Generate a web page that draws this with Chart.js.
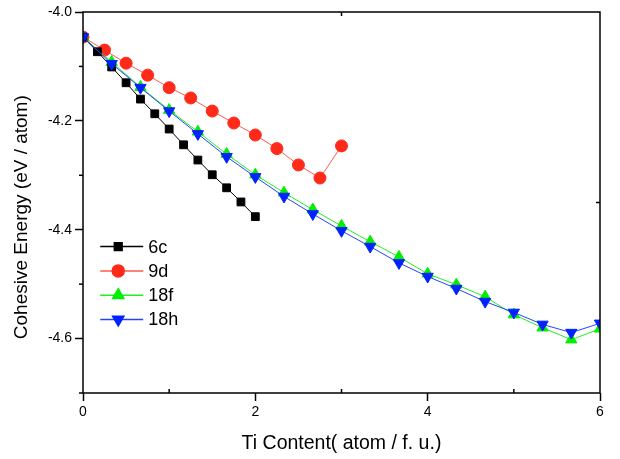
<!DOCTYPE html>
<html>
<head>
<meta charset="utf-8">
<script src="https://cdn.jsdelivr.net/npm/chart.js@4.4.1/dist/chart.umd.min.js"></script>
<style>
  html, body { margin: 0; padding: 0; background: #fff; }
  #wrap { width: 620px; height: 459px; }
</style>
</head>
<body>
<div id="wrap"><canvas id="energyChart" width="620" height="459"></canvas></div>
<script>
// Ti content (atom / f.u.) and cohesive energy (eV / atom)
const x6c = [0, 0.167, 0.333, 0.5, 0.667, 0.833, 1.0, 1.167, 1.333, 1.5, 1.667, 1.833, 2.0];
const e6c = [-4.046, -4.073, -4.101, -4.130, -4.160, -4.187, -4.215, -4.244, -4.272, -4.299, -4.323, -4.349, -4.376];

const x9d = [0, 0.25, 0.5, 0.75, 1.0, 1.25, 1.5, 1.75, 2.0, 2.25, 2.5, 2.75, 3.0];
const e9d = [-4.046, -4.070, -4.094, -4.116, -4.139, -4.158, -4.182, -4.204, -4.226, -4.251, -4.281, -4.305, -4.246];

const x18 = [0, 0.333, 0.667, 1.0, 1.333, 1.667, 2.0, 2.333, 2.667, 3.0, 3.333, 3.667, 4.0, 4.333, 4.667, 5.0, 5.333, 5.667, 6.0];
const e18f = [-4.046, -4.092, -4.138, -4.180, -4.220, -4.261, -4.299, -4.332, -4.363, -4.393, -4.422, -4.450, -4.481, -4.501, -4.523, -4.556, -4.580, -4.602, -4.582];
const e18h = [-4.046, -4.095, -4.139, -4.182, -4.224, -4.266, -4.303, -4.339, -4.371, -4.402, -4.431, -4.461, -4.486, -4.508, -4.532, -4.552, -4.574, -4.589, -4.572];

const seriesNames = ['6c', '9d', '18f', '18h'];
const xMajorTicks = [0, 2, 4, 6];
const xMinorTicks = [1, 3, 5];
const yMajorTicks = [-4.0, -4.2, -4.4, -4.6];
const yMinorTicks = [-4.1, -4.3, -4.5, -4.7];
const yTitle = 'Cohesive Energy (eV / atom)';

function toPoints(xs, ys) {
    return xs.map(function(x, i) { return { x: x, y: ys[i] }; });
}

const FONT = '"Liberation Sans", Arial, sans-serif';

function tick(ctx, x1, y1, x2, y2) {
    ctx.beginPath();
    ctx.moveTo(x1, y1);
    ctx.lineTo(x2, y2);
    ctx.stroke();
}

// box round the plot, minor ticks, small ticks on top/right, y title
const framePlugin = {
    id: 'frame',
    afterDraw: function(chart) {
        const ctx = chart.ctx;
        const a = chart.chartArea;
        const xs = chart.scales.x;
        const ys = chart.scales.y;
        ctx.save();
        ctx.strokeStyle = '#000';
        ctx.lineWidth = 1.5;
        ctx.strokeRect(a.left, a.top, a.right - a.left, a.bottom - a.top);
        xMinorTicks.forEach(function(v) {
            const px = xs.getPixelForValue(v);
            tick(ctx, px, a.bottom, px, a.bottom - 4);
        });
        yMinorTicks.forEach(function(v) {
            const py = ys.getPixelForValue(v);
            tick(ctx, a.left, py, a.left - 4, py);
        });
        // top and right axes
        const midX = xs.getPixelForValue(3);
        tick(ctx, midX, a.top, midX, a.top + 4);
        const midY = ys.getPixelForValue(-4.35);
        tick(ctx, a.right, midY, a.right - 4, midY);

        // y axis title, sits a little below the middle like the original
        ctx.translate(22, ys.getPixelForValue(-4.377));
        ctx.rotate(-Math.PI / 2);
        ctx.fillStyle = '#000';
        ctx.font = '19px ' + FONT;
        ctx.textAlign = 'center';
        ctx.textBaseline = 'middle';
        ctx.fillText(yTitle, 0, 0);
        ctx.restore();
    }
};

// legend drawn inside the plot, lower left
const legendPlugin = {
    id: 'innerLegend',
    afterDraw: function(chart) {
        const ctx = chart.ctx;
        const xs = chart.scales.x;
        const ys = chart.scales.y;
        const left = xs.getPixelForValue(0.2);
        const top = ys.getPixelForValue(-4.431);
        const rowH = 24.3;
        ctx.save();
        chart.data.datasets.forEach(function(ds, i) {
            const y = top + i * rowH;
            ctx.strokeStyle = ds.borderColor;
            ctx.lineWidth = 1.5;
            ctx.beginPath();
            ctx.moveTo(left, y);
            ctx.lineTo(left + 43, y);
            ctx.stroke();
            ctx.fillStyle = ds.pointBackgroundColor;
            ctx.strokeStyle = ds.pointBackgroundColor;
            Chart.helpers.drawPoint(ctx, {
                pointStyle: ds.pointStyle,
                radius: ds.pointRadius,
                rotation: ds.pointRotation || 0,
                borderWidth: 1
            }, left + 18, y);
            ctx.fillStyle = '#000';
            ctx.font = '18px ' + FONT;
            ctx.textBaseline = 'middle';
            ctx.fillText(ds.label, left + 48, y + 1);
        });
        ctx.restore();
    }
};

new Chart(document.getElementById('energyChart'), {
    type: 'line',
    data: {
        datasets: [
            {
                label: seriesNames[0],
                data: toPoints(x6c, e6c),
                borderColor: '#000000',
                pointBackgroundColor: '#000000',
                pointBorderColor: '#000000',
                pointStyle: 'rect',
                pointRadius: 5.5,
                borderWidth: 1,
                order: 1
            },
            {
                label: seriesNames[1],
                data: toPoints(x9d, e9d),
                borderColor: '#ff5a4a',
                pointBackgroundColor: '#ff2a1a',
                pointBorderColor: '#ff2a1a',
                pointStyle: 'circle',
                pointRadius: 6,
                borderWidth: 1,
                order: 3
            },
            {
                label: seriesNames[2],
                data: toPoints(x18, e18f),
                borderColor: '#22ee22',
                pointBackgroundColor: '#00ee00',
                pointBorderColor: '#00ee00',
                pointStyle: 'triangle',
                pointRadius: 6.5,
                borderWidth: 1,
                order: 2
            },
            {
                label: seriesNames[3],
                data: toPoints(x18, e18h),
                borderColor: '#2244ff',
                pointBackgroundColor: '#0022ff',
                pointBorderColor: '#0022ff',
                pointStyle: 'triangle',
                pointRotation: 180,
                pointRadius: 6.5,
                borderWidth: 1,
                order: 0
            }
        ]
    },
    options: {
        responsive: false,
        animation: false,
        layout: { padding: { left: 8, right: 20, top: 12, bottom: 0 } },
        elements: { line: { tension: 0 } },
        scales: {
            x: {
                type: 'linear',
                min: 0,
                max: 6,
                afterFit: function(scale) {
                    scale.height = 66;
                    scale.paddingLeft = 0;
                    scale.paddingRight = 0;
                },
                afterBuildTicks: function(scale) {
                    scale.ticks = xMajorTicks.map(function(v) { return { value: v }; });
                },
                grid: {
                    display: true,
                    drawOnChartArea: false,
                    drawTicks: true,
                    tickLength: 8,
                    tickWidth: 1.5,
                    tickColor: '#000'
                },
                border: { display: false },
                ticks: {
                    padding: 3,
                    color: '#000',
                    font: { family: FONT, size: 14 },
                    callback: function(v) { return String(v); }
                },
                title: {
                    display: true,
                    text: 'Ti Content( atom / f. u.)',
                    color: '#000',
                    font: { family: FONT, size: 19.5 },
                    padding: { top: 8 }
                }
            },
            y: {
                type: 'linear',
                min: -4.7,
                max: -4.0,
                afterFit: function(scale) {
                    scale.width = 75;
                    scale.paddingTop = 0;
                    scale.paddingBottom = 0;
                },
                afterBuildTicks: function(scale) {
                    scale.ticks = yMajorTicks.map(function(v) { return { value: v }; });
                },
                grid: {
                    display: true,
                    drawOnChartArea: false,
                    drawTicks: true,
                    tickLength: 8,
                    tickWidth: 1.5,
                    tickColor: '#000'
                },
                border: { display: false },
                ticks: {
                    padding: 3,
                    color: '#000',
                    font: { family: FONT, size: 14 },
                    callback: function(v) { return v.toFixed(1); }
                },
                title: { display: false }
            }
        },
        plugins: {
            legend: { display: false },
            tooltip: { enabled: false }
        }
    },
    plugins: [framePlugin, legendPlugin]
});
</script>
</body>
</html>
